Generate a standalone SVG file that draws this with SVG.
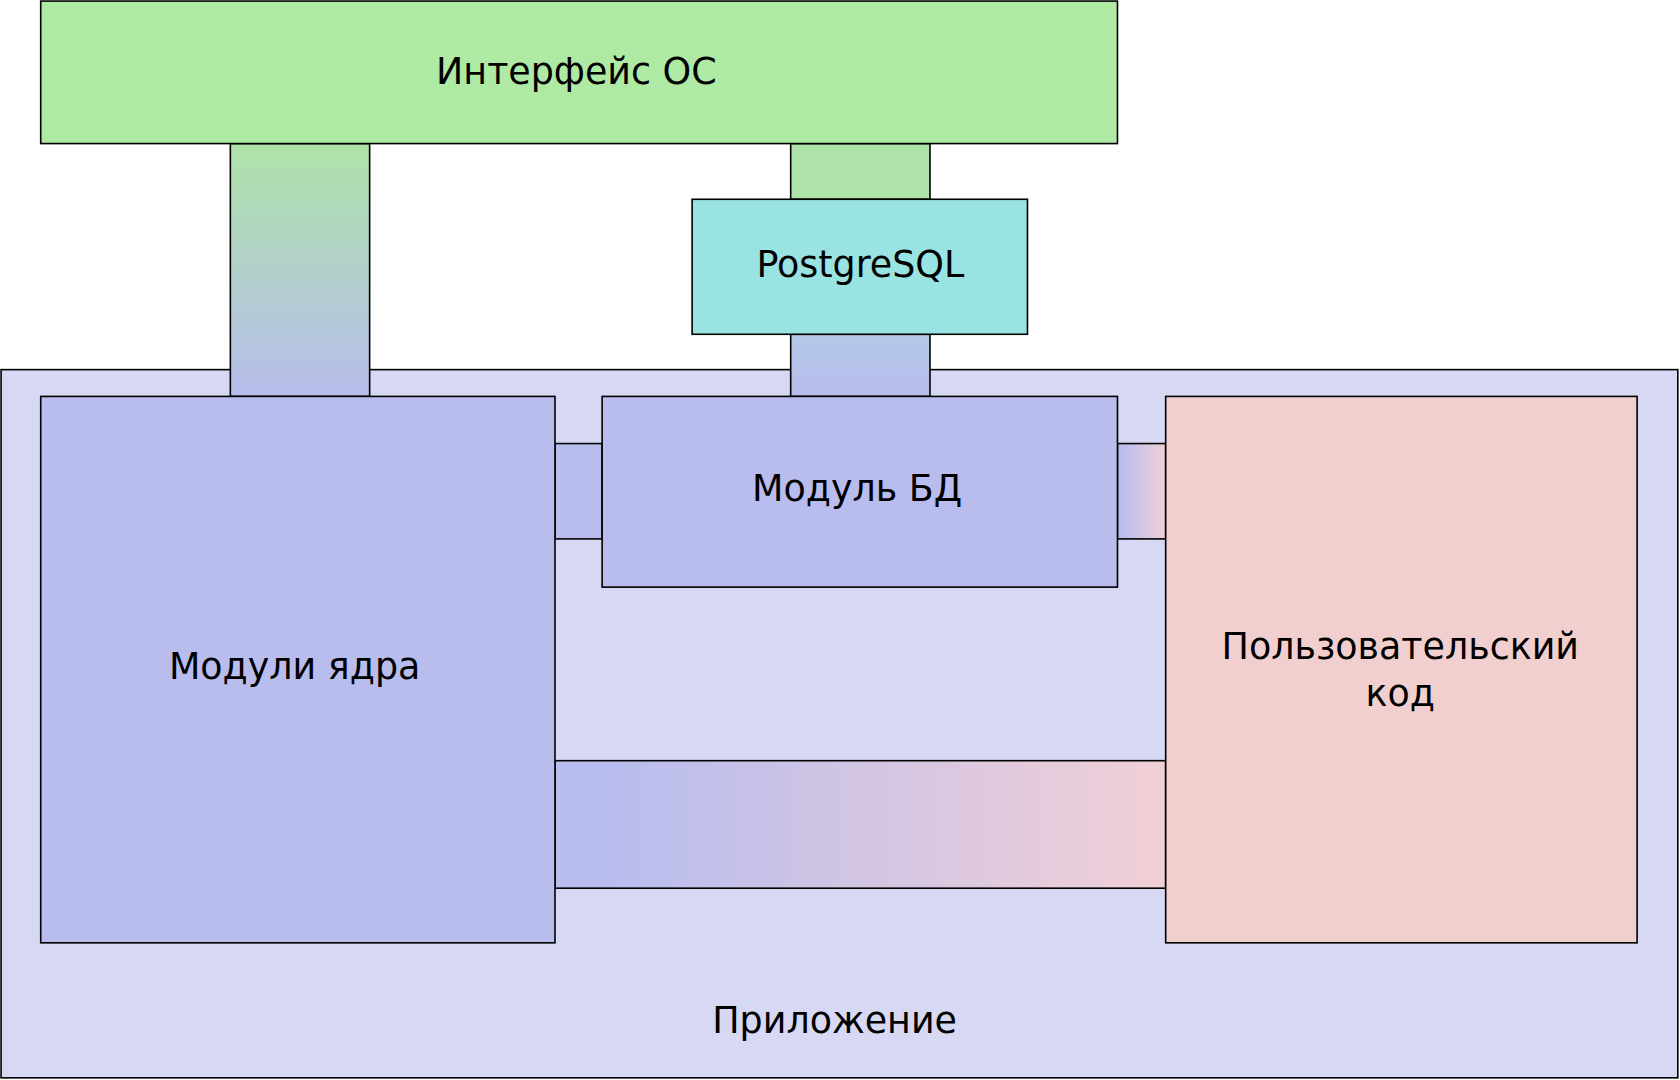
<svg xmlns="http://www.w3.org/2000/svg" width="1680" height="1080" viewBox="0 0 1680 1080">
<defs>
<linearGradient id="gv" x1="0" y1="0" x2="0" y2="1"><stop offset="0" stop-color="#aee3a9"/><stop offset="1" stop-color="#b7bdec"/></linearGradient>
<linearGradient id="gt" x1="0" y1="0" x2="0" y2="1"><stop offset="0" stop-color="#b4c8e8"/><stop offset="1" stop-color="#b7bdec"/></linearGradient>
<linearGradient id="gh" x1="0" y1="0" x2="1" y2="0"><stop offset="0.1" stop-color="#b9bdee"/><stop offset="1" stop-color="#f1cfd6"/></linearGradient>
<style>
.b{stroke:#000;stroke-width:1.5}
text{font-family:"DejaVu Sans",sans-serif;font-size:34px;text-anchor:middle;fill:#000}
.blue{fill:#b9bdee}
</style>
</defs>
<rect x="0" y="0" width="1680" height="1080" fill="#fff"/>
<g transform="scale(1.0714)">
<g id="app"><rect class="b" x="1" y="345" width="1565" height="661" fill="#d7d8f3"/><text x="779" y="964">Приложение</text></g>
<g id="connectors">
<rect class="b" x="215" y="134" width="130" height="236" fill="url(#gv)"/>
<rect class="b" x="738" y="134" width="130" height="52" fill="#aee3a9"/>
<rect class="b" x="738" y="312" width="130" height="58" fill="url(#gt)"/>
<rect class="b blue" x="518" y="414" width="44" height="89"/>
<rect class="b" x="1043" y="414" width="45" height="89" fill="url(#gh)"/>
<rect class="b" x="518" y="710" width="570" height="119" fill="url(#gh)"/>
</g>
<g id="os"><rect class="b" x="38" y="1" width="1005" height="133" fill="#aeeaa3"/><text x="538" y="78">Интерфейс ОС</text></g>
<g id="pg"><rect class="b" x="646" y="186" width="313" height="126" fill="#9ae3e3"/><text x="803" y="259">PostgreSQL</text></g>
<g id="core"><rect class="b blue" x="38" y="370" width="480" height="510"/><text x="275" y="634">Модули ядра</text></g>
<g id="db"><rect class="b blue" x="562" y="370" width="481" height="178"/><text x="800" y="468">Модуль БД</text></g>
<g id="user"><rect class="b" x="1088" y="370" width="440" height="510" fill="#f2cfcf"/><text x="1307" y="615">Пользовательский</text><text x="1307" y="659">код</text></g>
</g>
</svg>
